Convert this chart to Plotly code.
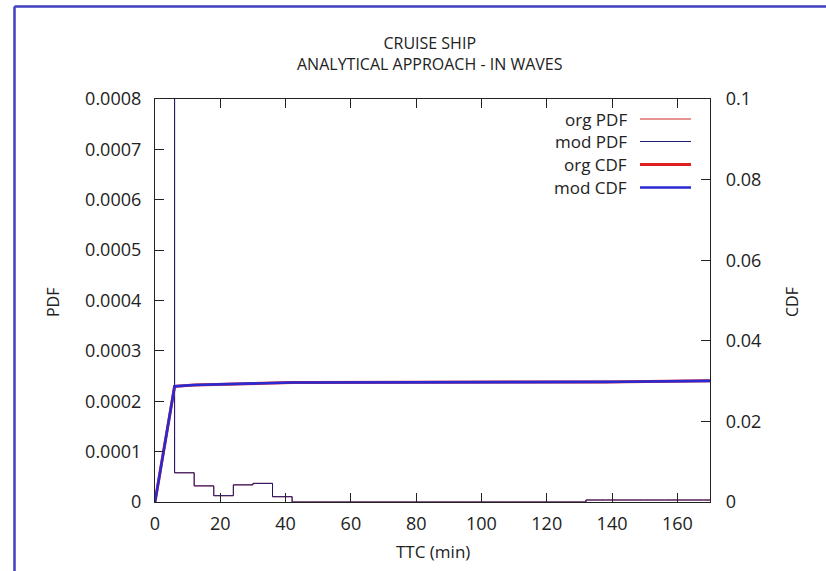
import plotly.graph_objects as go

# ---- data ----
bin_edges = [0, 6, 12, 18, 24, 30, 36, 42, 48, 54, 60, 66, 72, 78, 84, 90, 96, 102,
             108, 114, 120, 126, 132, 138, 144, 150, 156, 162, 168, 174]
org_pdf = [0.0048, 5.8e-5, 3.2e-5, 1.25e-5, 3.4e-5, 3.7e-5, 1.05e-5, 0, 0, 0, 0, 0, 0, 0,
           0, 0, 0, 0, 0, 0, 0, 0, 4e-6, 4e-6, 4e-6, 4e-6, 4e-6, 4e-6, 4e-6, 4e-6]
mod_pdf = [0.0048, 5.8e-5, 3.2e-5, 1.25e-5, 3.4e-5, 3.7e-5, 1.05e-5, 0, 0, 0, 0, 0, 0, 0,
           0, 0, 0, 0, 0, 0, 0, 0, 4e-6, 4e-6, 4e-6, 4e-6, 4e-6, 4e-6, 4e-6, 4e-6]
org_cdf = [0, 0.0287, 0.02905, 0.0292, 0.0293, 0.02945, 0.0296, 0.02965, 0.02965, 0.02965,
           0.02965, 0.02965, 0.02965, 0.02968, 0.0297, 0.0297, 0.0297, 0.02972, 0.02975,
           0.02975, 0.02975, 0.02972, 0.02975, 0.0298, 0.02985, 0.0299, 0.02995, 0.03,
           0.03005, 0.0301]
mod_cdf = list(org_cdf)

x_ticks = [0, 20, 40, 60, 80, 100, 120, 140, 160]
y_ticks = [0, 0.0001, 0.0002, 0.0003, 0.0004, 0.0005, 0.0006, 0.0007, 0.0008]
y_tick_labels = ["0", "0.0001", "0.0002", "0.0003", "0.0004", "0.0005", "0.0006", "0.0007", "0.0008"]
y2_ticks = [0, 0.02, 0.04, 0.06, 0.08, 0.1]
y2_tick_labels = ["0", "0.02", "0.04", "0.06", "0.08", "0.1"]

title_lines = ["CRUISE SHIP", "ANALYTICAL APPROACH - IN WAVES"]
legend_names = ["org PDF", "mod PDF", "org CDF", "mod CDF"]
colors = {"org PDF": "#d02828", "mod PDF": "#1a1a70", "org CDF": "#e02020", "mod CDF": "#2a2ad2"}
widths = {"org PDF": 1, "mod PDF": 1, "org CDF": 3, "mod CDF": 2.6}

FONT = "Open Sans"
TXT = "#222"

fig = go.Figure()
fig.add_trace(go.Scatter(x=bin_edges, y=org_pdf, mode="lines", line_shape="hv",
                         line=dict(color=colors["org PDF"], width=widths["org PDF"]), yaxis="y"))
fig.add_trace(go.Scatter(x=bin_edges, y=mod_pdf, mode="lines", line_shape="hv",
                         line=dict(color=colors["mod PDF"], width=widths["mod PDF"]), yaxis="y"))
fig.add_trace(go.Scatter(x=bin_edges, y=org_cdf, mode="lines",
                         line=dict(color=colors["org CDF"], width=widths["org CDF"]), yaxis="y2"))
fig.add_trace(go.Scatter(x=bin_edges, y=mod_cdf, mode="lines",
                         line=dict(color=colors["mod CDF"], width=widths["mod CDF"]), yaxis="y2"))

L, R, T, B = 155, 116, 99, 69
W, H = 826, 571
pw, ph = W - L - R, H - T - B

def px(xp):
    return (xp - L) / pw

def py(yp):
    return (H - B - yp) / ph

shapes = []
annotations = []
# frame lines (blue border top and left)
shapes.append(dict(type="line", xref="paper", yref="paper", x0=px(14.5), x1=px(830),
                   y0=py(6.5), y1=py(6.5), line=dict(color="#3f3fc0", width=2.5)))
shapes.append(dict(type="line", xref="paper", yref="paper", x0=px(14.5), x1=px(14.5),
                   y0=py(6.5), y1=py(575), line=dict(color="#3f3fc0", width=2.5)))

# legend
leg_y = [119, 141.5, 164.5, 187.5]
for name, yy in zip(legend_names, leg_y):
    annotations.append(dict(text=name, xref="paper", yref="paper", x=px(629), y=py(yy),
                            xanchor="right", yanchor="middle", showarrow=False,
                            font=dict(family=FONT, size=17, color=TXT)))
    shapes.append(dict(type="line", xref="paper", yref="paper", x0=px(640), x1=px(691),
                       y0=py(yy), y1=py(yy),
                       line=dict(color=colors[name], width=widths[name])))

# titles
annotations.append(dict(text="<br>".join(title_lines), xref="paper", yref="paper",
                        x=px(430), y=py(54), xanchor="center", yanchor="middle",
                        showarrow=False, align="center",
                        font=dict(family=FONT, size=16, color=TXT)))
annotations.append(dict(text="PDF", xref="paper", yref="paper", x=px(53), y=py(302),
                        xanchor="center", yanchor="middle", showarrow=False, textangle=-90,
                        font=dict(family=FONT, size=16, color=TXT)))
annotations.append(dict(text="CDF", xref="paper", yref="paper", x=px(792), y=py(302),
                        xanchor="center", yanchor="middle", showarrow=False, textangle=-90,
                        font=dict(family=FONT, size=16, color=TXT)))
annotations.append(dict(text="TTC (min)", xref="paper", yref="paper", x=px(433), y=py(551),
                        xanchor="center", yanchor="middle", showarrow=False,
                        font=dict(family=FONT, size=17, color=TXT)))

axis_common = dict(showgrid=False, zeroline=False, showline=True, linecolor=TXT,
                   linewidth=1.2, ticks="inside", ticklen=9, tickcolor=TXT, tickwidth=1.2,
                   tickfont=dict(family=FONT, size=18, color=TXT))

fig.update_layout(
    width=W, height=H,
    margin=dict(l=L, r=R, t=T, b=B, autoexpand=False),
    paper_bgcolor="white", plot_bgcolor="white",
    showlegend=False,
    xaxis=dict(range=[0, 170], tickvals=x_ticks, mirror="ticks", ticklabelstandoff=5,
               **axis_common),
    yaxis=dict(range=[0, 0.0008], tickvals=y_ticks, ticktext=y_tick_labels,
               ticklabelstandoff=9, **axis_common),
    yaxis2=dict(range=[0, 0.1], tickvals=y2_ticks, ticktext=y2_tick_labels, overlaying="y",
                side="right", ticklabelstandoff=11, **axis_common),
    shapes=shapes,
    annotations=annotations,
)

fig.write_html("out.html")
